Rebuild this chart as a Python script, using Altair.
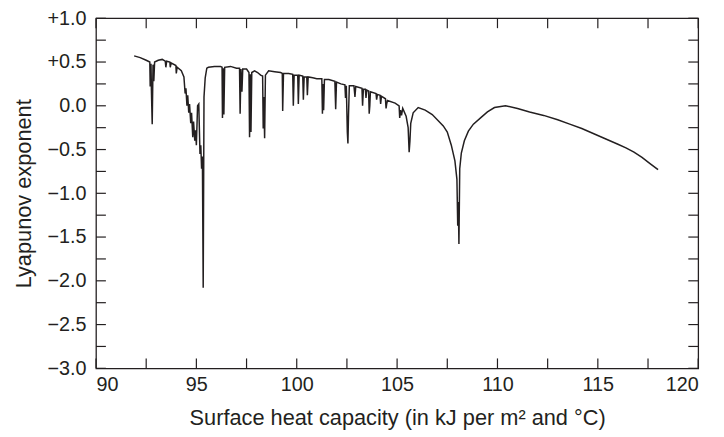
import altair as alt
import pandas as pd

# Curve (surface heat capacity vs Lyapunov exponent)
heat_capacity = [
    91.90, 92.20, 92.50, 92.68, 92.70, 92.74, 92.76, 92.80, 92.84, 92.88, 92.92,
    93.10, 93.30, 93.45, 93.48, 93.52, 93.68, 93.70, 93.74, 93.98, 94.00, 94.04,
    94.25, 94.38, 94.44, 94.48, 94.53, 94.57, 94.62, 94.66, 94.72, 94.76, 94.82,
    94.86, 94.92, 94.96, 95.00, 95.06, 95.12, 95.18, 95.22, 95.26, 95.30, 95.34,
    95.38, 95.44, 95.52, 95.60, 95.90, 96.20, 96.28, 96.30, 96.34, 96.37, 96.41,
    96.70, 97.00, 97.15, 97.18, 97.22, 97.27, 97.31, 97.50, 97.62, 97.65, 97.69,
    97.72, 97.76, 97.90, 98.05, 98.20, 98.30, 98.33, 98.36, 98.40, 98.44, 98.60,
    98.90, 99.20, 99.28, 99.30, 99.34, 99.60, 99.80, 99.83, 99.87, 100.05, 100.08,
    100.12, 100.30, 100.33, 100.37, 100.50, 100.53, 100.57, 100.80, 101.00, 101.25,
    101.28, 101.31, 101.34, 101.38, 101.60, 101.90, 101.94, 101.98, 102.20, 102.40,
    102.43, 102.47, 102.52, 102.55, 102.58, 102.62, 102.85, 102.90, 102.94, 103.25,
    103.28, 103.32, 103.42, 103.45, 103.49, 103.58, 103.61, 103.64, 103.67, 103.95,
    103.98, 104.02, 104.15, 104.18, 104.22, 104.42, 104.45, 104.48, 104.52, 104.90,
    105.10, 105.13, 105.17, 105.22, 105.28, 105.45, 105.55, 105.60, 105.64, 105.68,
    105.80, 106.05, 106.40, 106.75, 107.05, 107.30, 107.50, 107.70, 107.88, 107.98,
    108.02, 108.05, 108.08, 108.12, 108.20, 108.35, 108.55, 108.80, 109.20, 109.50,
    109.85, 110.40, 111.00, 111.60, 112.30, 113.00, 113.60, 114.20, 114.80, 115.40,
    116.00, 116.40, 116.80, 117.20, 117.60, 118.00,
]
lyapunov = [
    0.57, 0.55, 0.52, 0.50, 0.22, 0.48, 0.18, -0.21, 0.47, 0.28, 0.50,
    0.52, 0.53, 0.51, 0.44, 0.51, 0.50, 0.44, 0.49, 0.46, 0.37, 0.44,
    0.40, 0.33, 0.14, 0.20, 0.00, 0.12, -0.08, 0.02, -0.20, -0.08, -0.36,
    -0.18, -0.40, -0.28, -0.45, 0.00, 0.02, -0.55, -0.45, -0.72, -0.58, -2.08,
    0.10, 0.32, 0.43, 0.44, 0.45, 0.45, 0.44, -0.14, 0.43, -0.10, 0.44,
    0.45, 0.43, 0.43, -0.09, 0.42, 0.16, 0.42, 0.42, 0.38, -0.36, 0.36,
    -0.30, 0.38, 0.40, 0.38, 0.35, 0.34, -0.26, 0.10, -0.37, 0.35, 0.40,
    0.39, 0.38, 0.37, -0.06, 0.37, 0.37, 0.36, 0.00, 0.35, 0.35, 0.02,
    0.35, 0.34, 0.07, 0.33, 0.33, 0.12, 0.33, 0.32, 0.31, 0.31,
    -0.09, 0.25, -0.05, 0.30, 0.30, 0.28, -0.04, 0.27, 0.25, 0.24,
    0.09, 0.23, -0.30, -0.43, -0.10, 0.23, 0.23, 0.10, 0.22, 0.20,
    0.00, 0.19, 0.19, 0.09, 0.18, 0.17, -0.09, 0.00, 0.16, 0.14,
    0.07, 0.13, 0.12, 0.02, 0.11, 0.08, -0.03, 0.02, 0.06, 0.03,
    0.00, -0.14, -0.05, -0.11, -0.03, -0.12, -0.25, -0.53, -0.40, -0.20,
    -0.08, -0.02, -0.05, -0.10, -0.17, -0.23, -0.30, -0.45, -0.63, -0.84,
    -1.37, -1.10, -1.58, -0.72, -0.54, -0.40, -0.29, -0.21, -0.13, -0.07,
    -0.02, 0.00, -0.03, -0.07, -0.11, -0.16, -0.21, -0.26, -0.32, -0.38,
    -0.44, -0.48, -0.53, -0.59, -0.66, -0.73,
]

x_labels = [90, 95, 100, 105, 110, 115, 120]
y_labels = [-3.0, -2.5, -2.0, -1.5, -1.0, -0.5, 0.0, 0.5, 1.0]
x_ticks = [90, 92.5, 95, 97.5, 100, 102.5, 105, 107.5, 110, 112.5, 115, 117.5, 120]
y_ticks = [-3.0, -2.75, -2.5, -2.25, -2.0, -1.75, -1.5, -1.25, -1.0, -0.75, -0.5,
           -0.25, 0.0, 0.25, 0.5, 0.75, 1.0]

W, H = 609, 354
FONT = "Liberation Sans"
INK = "#231f20"
TICK_LEN = 10

curve = pd.DataFrame({"x": heat_capacity, "y": lyapunov, "i": range(len(lyapunov))})
xt = pd.DataFrame({"x": x_ticks})
yt = pd.DataFrame({"y": y_ticks})

xscale = alt.Scale(domain=[90, 120], nice=False, zero=False)
yscale = alt.Scale(domain=[-3, 1], nice=False, zero=False)

ylabel_expr = ("datum.value > 0 ? '+' + format(datum.value, '.1f') : "
               "(datum.value < 0 ? '\u2212' + format(-datum.value, '.1f') : '0.0')")

XTITLE = "Surface heat capacity (in kJ per m\u00b2 and \u00b0C)"
YTITLE = "Lyapunov exponent"

x_axis = alt.Axis(title=XTITLE, values=x_labels, format="d", ticks=False, tickSize=0,
                  domain=False, grid=False, labelPadding=6, titlePadding=14,
                  labelFontSize=20, titleFontSize=22, labelFont=FONT,
                  titleFont=FONT, labelColor=INK, titleColor=INK,
                  titleFontWeight="normal")
y_axis = alt.Axis(title=YTITLE, values=y_labels,
                  labelExpr=ylabel_expr, ticks=False, tickSize=0,
                  domain=False, grid=False, labelPadding=10, titlePadding=12,
                  labelFontSize=20, titleFontSize=22, labelFont=FONT,
                  titleFont=FONT, labelColor=INK, titleColor=INK,
                  titleFontWeight="normal")

line = alt.Chart(curve).mark_line(color=INK, strokeWidth=1.5, strokeJoin="miter").encode(
    x=alt.X("x:Q", scale=xscale, axis=x_axis, title=XTITLE),
    y=alt.Y("y:Q", scale=yscale, axis=y_axis, title=YTITLE),
    order="i:Q",
)

rule_style = dict(color=INK, strokeWidth=1.2)

left_ticks = alt.Chart(yt).mark_rule(**rule_style).encode(
    y=alt.Y("y:Q", scale=yscale, axis=y_axis, title=YTITLE),
    x=alt.value(0), x2=alt.value(TICK_LEN))
right_ticks = alt.Chart(yt).mark_rule(**rule_style).encode(
    y=alt.Y("y:Q", scale=yscale, axis=y_axis, title=YTITLE),
    x=alt.value(W - TICK_LEN), x2=alt.value(W))
bottom_ticks = alt.Chart(xt).mark_rule(**rule_style).encode(
    x=alt.X("x:Q", scale=xscale, axis=x_axis, title=XTITLE),
    y=alt.value(H), y2=alt.value(H - TICK_LEN))
top_ticks = alt.Chart(xt).mark_rule(**rule_style).encode(
    x=alt.X("x:Q", scale=xscale, axis=x_axis, title=XTITLE),
    y=alt.value(0), y2=alt.value(TICK_LEN))

chart = alt.layer(line, left_ticks, right_ticks, bottom_ticks, top_ticks).properties(
    width=W, height=H,
    padding={"left": 89, "top": 8, "right": 18, "bottom": 62},
    autosize=alt.AutoSizeParams(type="none"),
).configure_view(stroke=INK, strokeWidth=1.3)

chart.save("out.html", embed_options={"renderer": "svg", "actions": False})
